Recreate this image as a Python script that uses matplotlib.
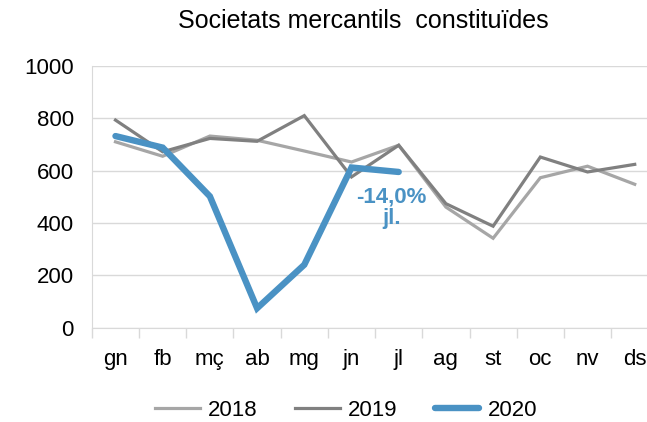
import matplotlib.pyplot as plt
from matplotlib.ticker import FixedLocator

plt.rcParams["font.family"] = ["Liberation Sans", "DejaVu Sans"]

months = ["gn", "fb", "mç", "ab", "mg", "jn", "jl", "ag", "st", "oc", "nv", "ds"]
v2018 = [710, 655, 732, 716, 675, 633, 697, 461, 342, 573, 617, 548]
v2019 = [793, 672, 723, 712, 810, 576, 697, 474, 388, 652, 595, 624]
v2020 = [732, 688, 502, 75, 241, 612, 595]

fig = plt.figure(figsize=(6.47, 4.22), dpi=100)
ax = fig.add_axes([0.142, 0.223, 0.858, 0.621])

x = range(len(months))
ax.plot(x, v2018, color="#a6a6a6", lw=2.3, label="2018", solid_joinstyle="miter")
ax.plot(x, v2019, color="#808080", lw=2.3, label="2019", solid_joinstyle="miter")
ax.plot(range(len(v2020)), v2020, color="#4a92c4", lw=4.6, label="2020",
        solid_capstyle="round", solid_joinstyle="miter")

# label for July 2020
ax.text(5.85, 458, "-14,0%\njl.", color="#4a92c4", fontsize=16, fontweight="bold",
        ha="center", va="center", linespacing=1.0)

ax.set_ylim(0, 1000)
ax.set_xlim(-0.5, 11.26)
ax.set_yticks(range(0, 1001, 200))
ax.set_xticks(list(x))
ax.set_xticklabels(months)
ax.xaxis.set_minor_locator(FixedLocator([i - 0.5 for i in range(13)]))
ax.tick_params(axis="x", which="major", length=0, pad=15, labelsize=16)
ax.tick_params(axis="x", which="minor", length=7, color="#d9d9d9", width=1)
ax.tick_params(axis="y", length=0, pad=13, labelsize=16)
ax.grid(axis="y", color="#d9d9d9", lw=1)
ax.set_axisbelow(True)
for s in ["top", "right"]:
    ax.spines[s].set_visible(False)
ax.spines["left"].set_color("#d9d9d9")
ax.spines["bottom"].set_color("#d9d9d9")

fig.text(0.561, 0.95, "Societats mercantils  constituïdes", fontsize=18,
         ha="center", va="center")

fig.legend(loc="center", bbox_to_anchor=(0.535, 0.028), ncol=3, frameon=False,
           fontsize=16, handlelength=2.0, handletextpad=0.36, columnspacing=1.7)

fig.savefig("out.png", dpi=100)
